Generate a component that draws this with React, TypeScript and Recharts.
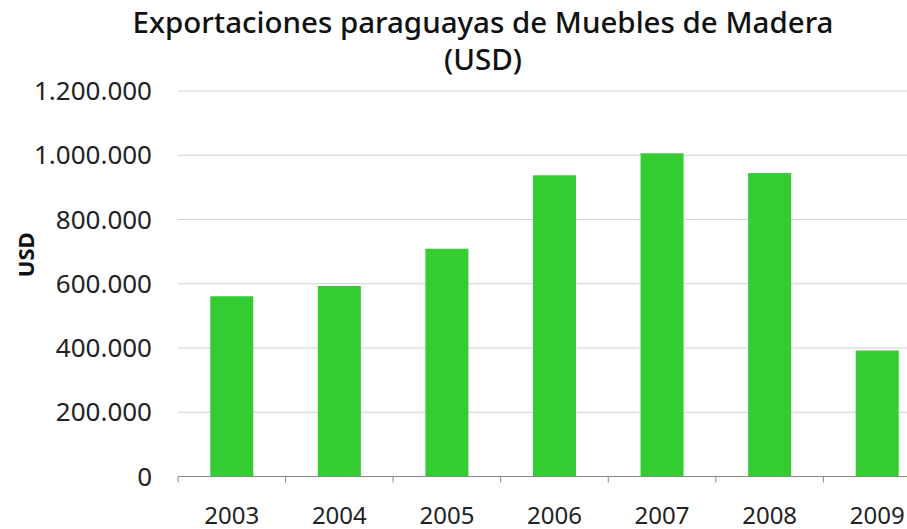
import { BarChart, Bar, XAxis, YAxis, CartesianGrid } from "recharts"

const years = ["2003", "2004", "2005", "2006", "2007", "2008", "2009"]
const exports = [561000, 593000, 709000, 938000, 1006000, 945000, 392000]
const yTicks = [0, 200000, 400000, 600000, 800000, 1000000, 1200000]

const data = years.map((year, i) => ({ year, usd: exports[i] }))

const font = "'Noto Sans', sans-serif"

const fmt = (v: number) => String(v).replace(/\B(?=(\d{3})+(?!\d))/g, ".")

// year label plus the small marks that sit between categories
function YearTick(props: any) {
    const { x, y, payload, index, width, visibleTicksCount } = props
    const band = width && visibleTicksCount ? width / visibleTicksCount : 2 * (payload.offset || 0)
    const left = x - band / 2
    return (
        <g>
            <line x1={left} x2={left} y1={y} y2={y + 6} stroke="#888" />
            {index === visibleTicksCount - 1 && (
                <line x1={x + band / 2} x2={x + band / 2} y1={y} y2={y + 6} stroke="#888" />
            )}
            <text x={x} y={y + 47} textAnchor="middle" fontSize={24} fontFamily={font} fill="#222">
                {payload.value}
            </text>
        </g>
    )
}

function UsdLabel(props: any) {
    const { viewBox } = props
    const cx = viewBox.x + 25
    const cy = viewBox.y + viewBox.height / 2 - 29
    return (
        <text
            x={cx}
            y={cy}
            transform={`rotate(-90 ${cx} ${cy})`}
            textAnchor="middle"
            dominantBaseline="central"
            fontSize={22}
            fontWeight={700}
            fontFamily={font}
            fill="#111"
        >
            USD
        </text>
    )
}

const titleStyle = {
    position: "absolute" as const,
    left: 0,
    width: 966,
    textAlign: "center" as const,
    fontFamily: font,
    fontSize: 29.5,
    fontWeight: 500,
    lineHeight: "30px",
    color: "#111",
    whiteSpace: "nowrap" as const,
}

export default function App() {
    return (
        <div
            style={{
                position: "absolute",
                left: 0,
                top: 0,
                width: 907,
                height: 529,
                overflow: "hidden",
                background: "#fff",
            }}
        >
            <div style={{ ...titleStyle, top: 7 }}>Exportaciones paraguayas de Muebles de Madera</div>
            <div style={{ ...titleStyle, top: 44 }}>(USD)</div>
            <BarChart
                width={931}
                height={529}
                data={data}
                margin={{ top: 91, right: 0, bottom: 0, left: 0 }}
                barCategoryGap="30%"
            >
                <CartesianGrid vertical={false} stroke="#cfcfcf" />
                <XAxis
                    dataKey="year"
                    height={52.5}
                    tick={<YearTick />}
                    tickLine={false}
                    tickSize={0}
                    tickMargin={0}
                    stroke="#888"
                    interval={0}
                />
                <YAxis
                    width={178}
                    domain={[0, 1200000]}
                    ticks={yTicks}
                    tickFormatter={fmt}
                    axisLine={false}
                    tickLine={false}
                    tickMargin={20}
                    tick={{ fontSize: 26, fontFamily: font, fill: "#222" }}
                    label={{ content: <UsdLabel /> }}
                />
                <Bar dataKey="usd" fill="#33cc33" isAnimationActive={false} />
            </BarChart>
        </div>
    )
}
